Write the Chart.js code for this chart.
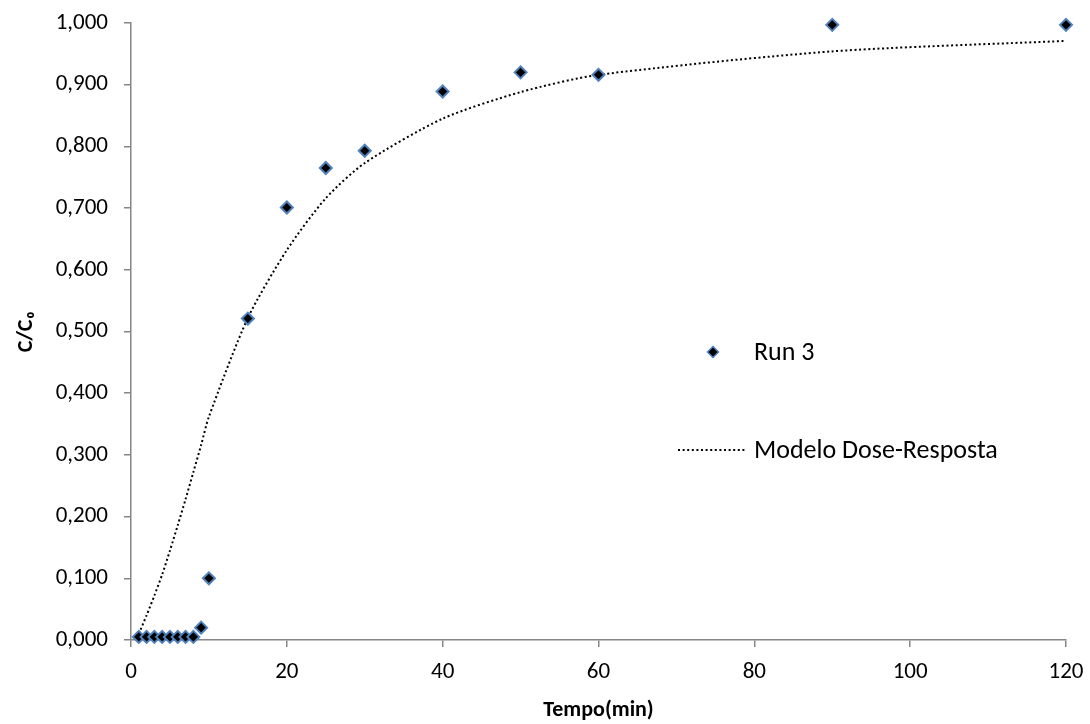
<!DOCTYPE html>
<html>
<head>
<meta charset="utf-8">
<script src="https://cdn.jsdelivr.net/npm/chart.js@4.4.0/dist/chart.umd.min.js"></script>
<style>
  html, body { margin: 0; padding: 0; background: #fff; }
  #wrap { width: 1090px; height: 724px; }
</style>
</head>
<body>
<div id="wrap"><canvas id="chart" width="1090" height="724"></canvas></div>
<script>
// measured points (Run 3)
var tempo = [1, 2, 3, 4, 5, 6, 7, 8, 9, 10, 15, 20, 25, 30, 40, 50, 60, 90, 120];
var run3 = [0.005, 0.005, 0.005, 0.005, 0.005, 0.005, 0.005, 0.005, 0.020, 0.100, 0.521, 0.701, 0.765, 0.793, 0.889, 0.920, 0.916, 0.997, 0.997];
// model curve
var modelo = [0.010, 0.040, 0.072, 0.106, 0.145, 0.186, 0.228, 0.272, 0.316, 0.362, 0.522, 0.632, 0.716, 0.773, 0.845, 0.888, 0.916, 0.954, 0.971];
var yTicks = [0, 0.1, 0.2, 0.3, 0.4, 0.5, 0.6, 0.7, 0.8, 0.9, 1.0];

var FONT = "Carlito, Calibri, Lato, 'Noto Sans', sans-serif";
var axisGrey = '#868686';

function pts(xs, ys) {
    var out = [];
    for (var i in xs) out.push({x: xs[i], y: ys[i]});
    return out;
}

// legend drawn inside the plot, like the original
var legendBox = {
    id: 'legendBox',
    afterDraw: function(chart) {
        var ctx = chart.ctx;
        ctx.save();
        ctx.font = '26px ' + FONT;
        ctx.textBaseline = 'middle';
        ctx.textAlign = 'left';
        // Run 3
        var mx = 713, my = 352, r = 5.5;
        ctx.beginPath();
        ctx.moveTo(mx, my - r); ctx.lineTo(mx + r, my); ctx.lineTo(mx, my + r); ctx.lineTo(mx - r, my); ctx.closePath();
        ctx.fillStyle = '#000';
        ctx.fill();
        ctx.lineWidth = 1.5;
        ctx.strokeStyle = '#4f81bd';
        ctx.stroke();
        ctx.fillStyle = '#000';
        ctx.fillText('Run 3', 754, my + 1);
        // Modelo
        var ly = 450;
        ctx.beginPath();
        ctx.setLineDash([2, 2.6]);
        ctx.lineWidth = 2;
        ctx.strokeStyle = '#000';
        ctx.moveTo(678, ly); ctx.lineTo(745, ly);
        ctx.stroke();
        ctx.setLineDash([]);
        ctx.fillText('Modelo Dose-Resposta', 754, ly + 1);
        ctx.restore();
    }
};

var ctx = document.getElementById('chart');
var myChart = new Chart(ctx, {
    type: 'scatter',
    data: {
        datasets: [
            {
                label: 'Run 3',
                data: pts(tempo, run3),
                pointStyle: 'rectRot',
                pointRadius: 6,
                pointBackgroundColor: '#000',
                pointBorderColor: '#4f81bd',
                pointBorderWidth: 2,
                showLine: false,
                clip: false,
                order: 1
            },
            {
                label: 'Modelo Dose-Resposta',
                data: pts(tempo, modelo),
                showLine: true,
                borderColor: '#000',
                borderWidth: 2,
                borderDash: [2, 2.6],
                tension: 0.25,
                pointRadius: 0,
                order: 2
            }
        ]
    },
    options: {
        responsive: false,
        animation: false,
        layout: { padding: { top: 23, right: 24, left: 0, bottom: 0 } },
        plugins: {
            legend: { display: false },
            tooltip: { enabled: false }
        },
        scales: {
            x: {
                type: 'linear',
                min: 0, max: 120,
                ticks: { stepSize: 20, color: '#000', font: { family: FONT, size: 23 }, padding: 11 },
                grid: { drawOnChartArea: false, drawTicks: true, tickLength: 7, color: axisGrey, lineWidth: 1.5 },
                border: { color: axisGrey, width: 1.5 },
                title: { display: true, text: 'Tempo(min)', color: '#000', font: { family: FONT, size: 22, weight: 'bold' }, padding: { top: 4, bottom: 0 } },
                afterFit: function(s) { s.height = 84; s.paddingLeft = 0; s.paddingRight = 0; }
            },
            y: {
                type: 'linear',
                min: 0, max: 1,
                afterBuildTicks: function(s) { s.ticks = yTicks.map(function(v) { return {value: v}; }); },
                ticks: {
                    color: '#000', font: { family: FONT, size: 23 }, padding: 16,
                    callback: function(v) { return v.toFixed(3).replace('.', ','); }
                },
                grid: { drawOnChartArea: false, drawTicks: true, tickLength: 7, color: axisGrey, lineWidth: 1.5 },
                border: { color: axisGrey, width: 1.5 },
                title: { display: true, text: 'C/C\u2080', color: '#000', font: { family: FONT, size: 22, weight: 'bold' }, padding: { top: 13, bottom: 0 } },
                afterFit: function(s) { s.width = 131; s.paddingTop = 0; s.paddingBottom = 0; }
            }
        }
    },
    plugins: [legendBox]
});
</script>
</body>
</html>
